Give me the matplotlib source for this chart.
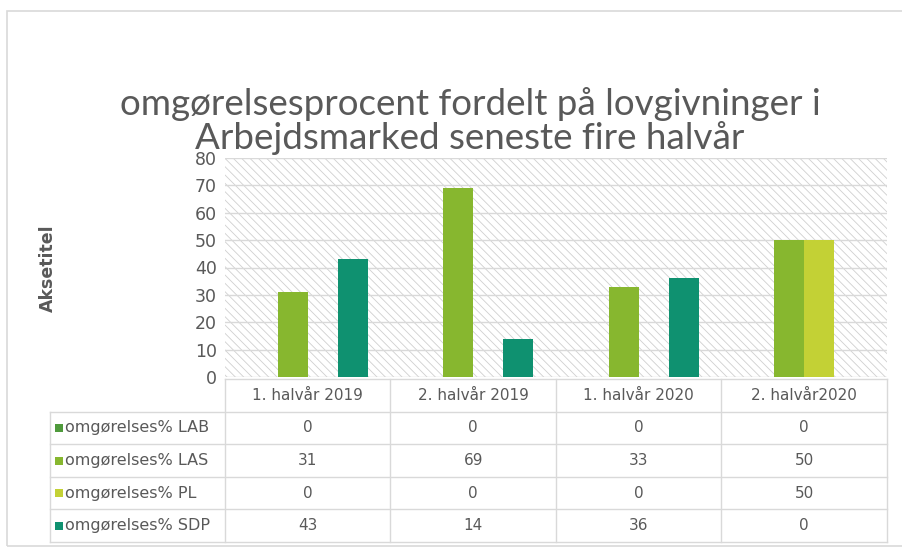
import matplotlib
matplotlib.use("Agg")
import matplotlib.pyplot as plt
import numpy as np
from matplotlib.patches import Rectangle

categories = ["1. halvår 2019", "2. halvår 2019", "1. halvår 2020", "2. halvår2020"]
series_names = ["omgørelses% LAB", "omgørelses% LAS", "omgørelses% PL", "omgørelses% SDP"]
lab = [0, 0, 0, 0]
las = [31, 69, 33, 50]
pl = [0, 0, 0, 50]
sdp = [43, 14, 36, 0]
yticks = [0, 10, 20, 30, 40, 50, 60, 70, 80]

colors = ["#4f9a3c", "#87b72f", "#c3d135", "#0f9170"]
series = [lab, las, pl, sdp]
text_gray = "#595959"
line_gray = "#d9d9d9"

plt.rcParams["hatch.color"] = "#cfcfcf"
plt.rcParams["hatch.linewidth"] = 0.6

W, H = 903, 548
fig = plt.figure(figsize=(W / 100, H / 100), dpi=100)

# outer chart frame
fig.patches.append(Rectangle((7 / W, 2 / H), (W - 5) / W, (H - 13) / H,
                             transform=fig.transFigure, fill=False,
                             edgecolor="#d9d9d9", linewidth=1.2))

# plot area
left, right = 225, 887
top, bottom = 158, 377
ax = fig.add_axes([left / W, (H - bottom) / H, (right - left) / W, (bottom - top) / H])
ax.patch.set_facecolor("white")
ax.patch.set_hatch("\\\\\\\\")
ax.patch.set_edgecolor("#cfcfcf")
ax.patch.set_linewidth(0)

x = np.arange(len(categories))
bw = 0.182
for i, vals in enumerate(series):
    ax.bar(x + (i - 1.5) * bw, vals, width=bw, color=colors[i], zorder=3)

ax.set_xlim(-0.5, len(categories) - 0.5)
ax.set_ylim(0, 80)
ax.set_yticks(yticks)
ax.set_xticks([])
ax.yaxis.grid(True, color=line_gray, linewidth=1.0, zorder=1)
ax.set_axisbelow(True)
for s in ax.spines.values():
    s.set_visible(False)
ax.tick_params(axis="y", length=0, pad=6, labelsize=12.5, labelcolor=text_gray)

fig.text(48 / W, 1 - 268 / H, "Aksetitel", rotation=90, ha="center", va="center",
         fontsize=12.5, fontweight="bold", color=text_gray)

fig.text(470 / W, 1 - 121 / H,
         "omgørelsesprocent fordelt på lovgivninger i\nArbejdsmarked seneste fire halvår",
         ha="center", va="center", fontsize=26.5, color=text_gray,
         family="Lato", linespacing=1.0)

# data table under the plot
t_top, t_bot = 379, 542
tab = fig.add_axes([left / W, (H - t_bot) / H, (right - left) / W, (t_bot - t_top) / H])
tab.set_xlim(-0.5, len(categories) - 0.5)
nrows = len(series) + 1
tab.set_ylim(nrows, 0)
tab.axis("off")
col_px = (right - left) / len(categories)
lab_left = -0.5 - (left - 50) / col_px

kw = dict(color=line_gray, linewidth=1.0, clip_on=False)
tab.plot([-0.5, len(categories) - 0.5], [0, 0], **kw)
for r in range(1, nrows + 1):
    tab.plot([lab_left, len(categories) - 0.5], [r, r], **kw)
for c in range(len(categories) + 1):
    tab.plot([c - 0.5, c - 0.5], [0, nrows], **kw)
tab.plot([lab_left, lab_left], [1, nrows], **kw)

tfont = dict(family="DejaVu Sans", fontsize=11, color=text_gray, clip_on=False)
sq_w = 8 / col_px
sq_h = 8 / ((t_bot - t_top) / nrows)
for c, cat in enumerate(categories):
    tab.text(c, 0.5, cat, ha="center", va="center", **tfont)
for r, (name, vals) in enumerate(zip(series_names, series), start=1):
    tab.add_patch(Rectangle((lab_left + 5 / col_px, r + 0.5 - sq_h / 2), sq_w, sq_h,
                            facecolor=colors[r - 1], edgecolor="none", clip_on=False))
    tab.text(lab_left + 15 / col_px, r + 0.5, name, ha="left", va="center",
             **dict(tfont, fontsize=11.5))
    for c, v in enumerate(vals):
        tab.text(c, r + 0.5, str(v), ha="center", va="center", **tfont)

fig.savefig("out.png", dpi=100)
